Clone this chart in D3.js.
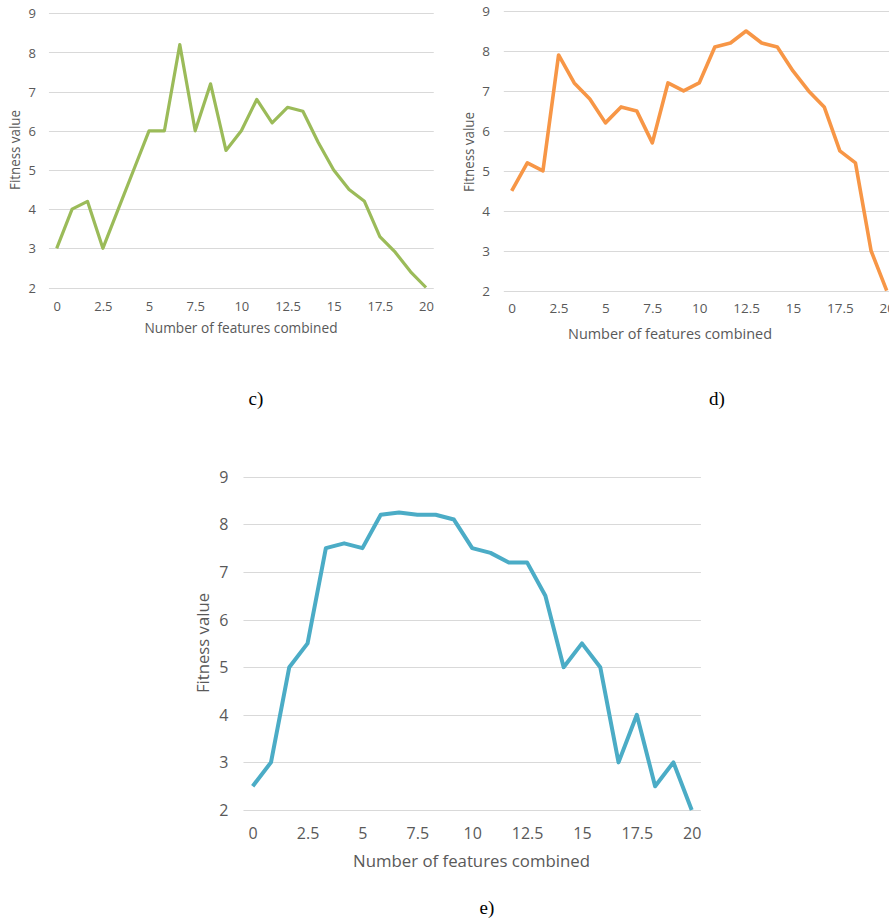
<!DOCTYPE html>
<html>
<head>
<meta charset="utf-8">
<script src="https://cdn.jsdelivr.net/npm/d3@7/dist/d3.min.js"></script>
<style>
  html, body { margin: 0; padding: 0; background: #ffffff; }
  svg { display: block; }
</style>
</head>
<body>
<svg id="fig" width="889" height="921"></svg>
<script>
// Fitness value against number of features combined, three runs.
const featureCount = d3.range(25).map(i => i * 20 / 24);
const fitnessC = [3, 4, 4.2, 3, 4, 5, 6, 6, 8.2, 6, 7.2, 5.5, 6, 6.8, 6.2, 6.6, 6.5, 5.7, 5, 4.5, 4.2, 3.3, 2.9, 2.4, 2];
const fitnessD = [4.5, 5.2, 5, 7.9, 7.2, 6.8, 6.2, 6.6, 6.5, 5.7, 7.2, 7, 7.2, 8.1, 8.2, 8.5, 8.2, 8.1, 7.5, 7, 6.6, 5.5, 5.2, 3, 2];
const fitnessE = [2.5, 3, 5, 5.5, 7.5, 7.6, 7.5, 8.2, 8.25, 8.2, 8.2, 8.1, 7.5, 7.4, 7.2, 7.2, 6.5, 5, 5.5, 5, 3, 4, 2.5, 3, 2];
const xTicks = [0, 2.5, 5, 7.5, 10, 12.5, 15, 17.5, 20];
const yTicks = [2, 3, 4, 5, 6, 7, 8, 9];
const xTitle = "Number of features combined";
const yTitle = "Fitness value";
const panelLabels = ["c)", "d)", "e)"];

const svg = d3.select("#fig");
const textColor = "#595959";
const gridColor = "#d9d9d9";
const font = "'Open Sans', 'Noto Sans', sans-serif";

function drawPanel(cfg) {
  const x = d3.scaleLinear().domain([0, 20]).range([cfg.x0, cfg.x1]);
  const y = d3.scaleLinear().domain([2, 9]).range([cfg.y0, cfg.y1]);
  const g = svg.append("g");

  // horizontal gridlines
  g.append("g").selectAll("line").data(yTicks).join("line")
    .attr("x1", x(-0.42)).attr("x2", x(20.42))
    .attr("y1", d => Math.round(y(d)) + 0.5).attr("y2", d => Math.round(y(d)) + 0.5)
    .attr("stroke", gridColor).attr("stroke-width", 1);

  // y axis labels
  const yAxis = d3.axisLeft(y).tickValues(yTicks).tickSize(0).tickPadding(0).tickFormat(d3.format("d"));
  const ya = g.append("g").attr("transform", `translate(${cfg.yLabelX},0)`).call(yAxis);
  ya.select(".domain").remove();
  ya.selectAll("text").attr("fill", textColor).attr("font-family", font)
    .attr("font-size", cfg.tickSize).attr("dy", "0.35em");

  // x axis labels
  const xAxis = d3.axisBottom(x).tickValues(xTicks).tickSize(0).tickPadding(0).tickFormat(d3.format("~g"));
  const xa = g.append("g").attr("transform", `translate(0,${cfg.xLabelY})`).call(xAxis);
  xa.select(".domain").remove();
  xa.selectAll("text").attr("fill", textColor).attr("font-family", font)
    .attr("font-size", cfg.tickSize).attr("dy", "0.35em");

  // axis titles
  g.append("text").text(xTitle)
    .attr("x", cfg.xTitle[0]).attr("y", cfg.xTitle[1]).attr("dy", "0.35em")
    .attr("text-anchor", "middle").attr("fill", textColor)
    .attr("font-family", font).attr("font-size", cfg.titleSize)
    .attr("textLength", cfg.xTitleLen).attr("lengthAdjust", "spacingAndGlyphs");
  g.append("text").text(yTitle)
    .attr("transform", `translate(${cfg.yTitle[0]},${cfg.yTitle[1]}) rotate(-90)`)
    .attr("dy", "0.35em").attr("text-anchor", "middle").attr("fill", textColor)
    .attr("font-family", font).attr("font-size", cfg.titleSize)
    .attr("textLength", cfg.yTitleLen).attr("lengthAdjust", "spacingAndGlyphs");

  // series line
  const line = d3.line().x((d, i) => x(featureCount[i])).y(d => y(d));
  g.append("path").datum(cfg.values)
    .attr("d", line).attr("fill", "none")
    .attr("stroke", cfg.color).attr("stroke-width", cfg.lineWidth)
    .attr("stroke-linejoin", "round").attr("stroke-linecap", "butt");

  // panel caption
  svg.append("text").text(cfg.caption)
    .attr("x", cfg.captionPos[0]).attr("y", cfg.captionPos[1])
    .attr("text-anchor", "middle").attr("fill", "#000")
    .attr("font-family", "'Liberation Serif', 'Times New Roman', serif")
    .attr("font-size", 19);
}

drawPanel({
  values: fitnessC, color: "#9bbb59", lineWidth: 3.2,
  x0: 56.7, x1: 426, y0: 287.5, y1: 13.3,
  yLabelX: 36, xLabelY: 306, tickSize: 13,
  xTitle: [241, 328], xTitleLen: 193, yTitle: [15, 150], yTitleLen: 80, titleSize: 14,
  caption: panelLabels[0], captionPos: [256, 405]
});

drawPanel({
  values: fitnessD, color: "#f79646", lineWidth: 3.6,
  x0: 511.7, x1: 886.7, y0: 290.7, y1: 11,
  yLabelX: 490, xLabelY: 308.5, tickSize: 13.5,
  xTitle: [670, 333.5], xTitleLen: 204, yTitle: [469, 152], yTitleLen: 80, titleSize: 14.5,
  caption: panelLabels[1], captionPos: [717, 405]
});

drawPanel({
  values: fitnessE, color: "#4bacc6", lineWidth: 4,
  x0: 252.7, x1: 691.7, y0: 810, y1: 476.7,
  yLabelX: 228.5, xLabelY: 833, tickSize: 16,
  xTitle: [471.5, 861], xTitleLen: 237, yTitle: [203, 643], yTitleLen: 100, titleSize: 17,
  caption: panelLabels[2], captionPos: [487, 914]
});
</script>
</body>
</html>
